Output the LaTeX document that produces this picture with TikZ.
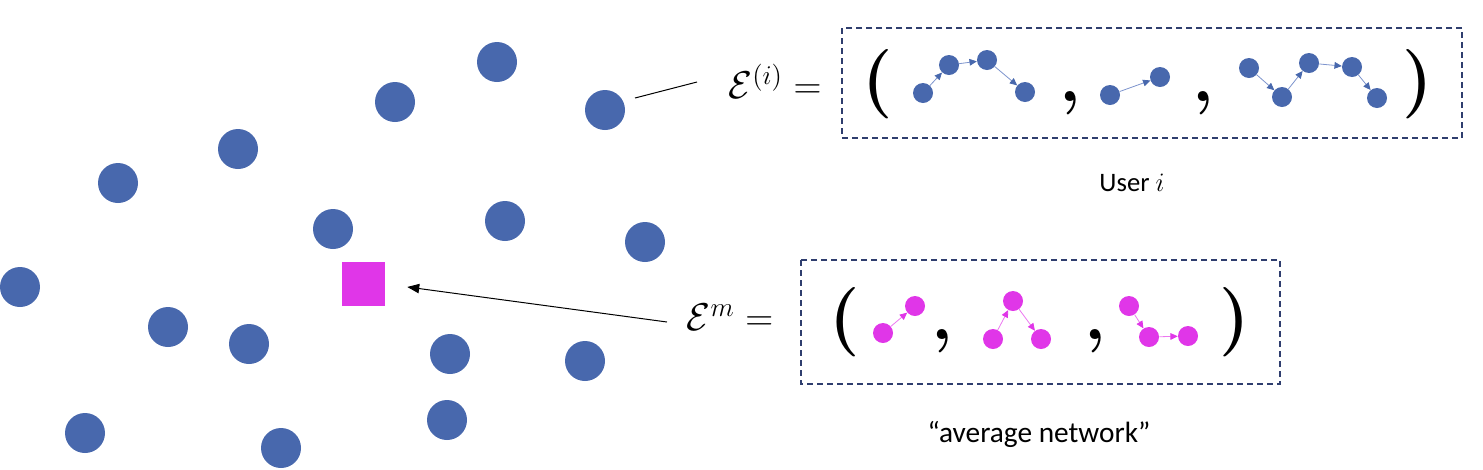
\documentclass[tikz,border=0pt]{standalone}
\usepackage{fix-cm}
\usepackage{fontspec}
\setsansfont{Carlito}
\usetikzlibrary{arrows.meta}
\definecolor{userblue}{RGB}{72,104,173}
\definecolor{linkblue}{RGB}{125,148,205}
\definecolor{avgpink}{RGB}{224,54,232}
\definecolor{linkpink}{RGB}{236,120,240}
\definecolor{boxblue}{RGB}{47,62,110}

\begin{document}
\begin{tikzpicture}[x=0.75pt,y=-0.75pt]
\useasboundingbox (0,0) rectangle (1483,469);
\tikzstyle{User} = [circle, fill=userblue, minimum size=30pt, inner sep=0]
\tikzstyle{Avg} = [rectangle, fill=avgpink, minimum size=32.5pt, inner sep=0]
\tikzstyle{Dot} = [circle, fill=userblue, minimum size=15pt, inner sep=0]
\tikzstyle{MDot} = [circle, fill=avgpink, minimum size=15pt, inner sep=0]
\tikzstyle{Tupel} = [anchor=base, inner sep=0, font=\fontsize{52}{52}\selectfont]
\tikzstyle{Caption} = [inner sep=0, font=\sffamily\fontsize{20}{24}\selectfont]
\tikzstyle{Gleichung} = [inner sep=0, scale=1.32, font=\fontsize{22}{26}\selectfont]
\tikzstyle{Rahmen} = [draw=boxblue, line width=1.1pt, dash pattern=on 4.5pt off 3pt]

% users
\node [User] (v1) at (497,62) {};
\node [User] (v2) at (395,102) {};
\node [User] (v3) at (605,110) {};
\node [User] (v4) at (238,149) {};
\node [User] (v5) at (118,183) {};
\node [User] (v6) at (333,229) {};
\node [User] (v7) at (505,221) {};
\node [User] (v8) at (645,242) {};
\node [User] (v9) at (20,287) {};
\node [User] (v10) at (168,327) {};
\node [User] (v11) at (249,344) {};
\node [User] (v12) at (450,354) {};
\node [User] (v13) at (585,361) {};
\node [User] (v14) at (85,433) {};
\node [User] (v15) at (447,420) {};
\node [User] (v16) at (281,448) {};
\node [Avg] (v17) at (363.5,284) {};

% equations
\node [Gleichung] (e1) at (775,81) {$\mathcal{E}^{(i)} =$};
\node [Gleichung] (e2) at (730,317) {$\mathcal{E}^{m} =$};

\draw [Rahmen] (842,28) rectangle (1462,138);
\draw [Rahmen] (801,260) rectangle (1280,384);

% user i
\node [Tupel] (p1) at (878,101) {\bfseries(};
\node [Tupel] (k1) at (1070,101) {\bfseries,};
\node [Tupel] (k2) at (1203,101) {\bfseries,};
\node [Tupel] (p2) at (1418,101) {\bfseries)};
\node [Dot] (a1) at (923,93) {};
\node [Dot] (a2) at (949,65) {};
\node [Dot] (a3) at (987,60) {};
\node [Dot] (a4) at (1025,92) {};
\node [Dot] (b1) at (1110,95) {};
\node [Dot] (b2) at (1160,77) {};
\node [Dot] (c1) at (1249,68) {};
\node [Dot] (c2) at (1282,97) {};
\node [Dot] (c3) at (1309,63) {};
\node [Dot] (c4) at (1352,67) {};
\node [Dot] (c5) at (1377,98) {};

\tikzstyle{Kante} = [-{Triangle[length=5.5pt,width=5pt,color=userblue]}, draw=linkblue, line width=0.6pt]
\draw [Kante] (a1) -- (a2);
\draw [Kante] (a2) -- (a3);
\draw [Kante] (a3) -- (a4);
\draw [Kante] (b1) -- (b2);
\draw [Kante] (c1) -- (c2);
\draw [Kante] (c2) -- (c3);
\draw [Kante] (c3) -- (c4);
\draw [Kante] (c4) -- (c5);

% average network
\node [Tupel] (p3) at (845,339) {\bfseries(};
\node [Tupel] (k3) at (942,339) {\bfseries,};
\node [Tupel] (k4) at (1095,339) {\bfseries,};
\node [Tupel] (p4) at (1235,339) {\bfseries)};
\node [MDot] (m1) at (883,333) {};
\node [MDot] (m2) at (915,306) {};
\node [MDot] (m3) at (993,339) {};
\node [MDot] (m4) at (1013,301) {};
\node [MDot] (m5) at (1041,339) {};
\node [MDot] (m6) at (1129,306) {};
\node [MDot] (m7) at (1149,337) {};
\node [MDot] (m8) at (1188,336) {};

\tikzstyle{MKante} = [-{Triangle[length=5.5pt,width=5pt,color=avgpink]}, draw=linkpink, line width=0.6pt]
\draw [MKante] (m1) -- (m2);
\draw [MKante] (m3) -- (m4);
\draw [MKante] (m4) -- (m5);
\draw [MKante] (m6) -- (m7);
\draw [MKante] (m7) -- (m8);

\node [Caption] (t1) at (1132,183) {User $i$};
\node [Caption, font=\sffamily\fontsize{22}{26}\selectfont] (t2) at (1039,434) {“average network”};

% pointers
\coordinate (l1) at (635,98);
\coordinate (l2) at (697,82);
\coordinate (l3) at (667,322);
\draw [line width=0.75pt] (l1) -- (l2);
\draw [-{Triangle[length=9pt,width=7pt]}, line width=0.75pt, shorten >=16.5pt] (l3) -- (v17.east);
\end{tikzpicture}
\end{document}
